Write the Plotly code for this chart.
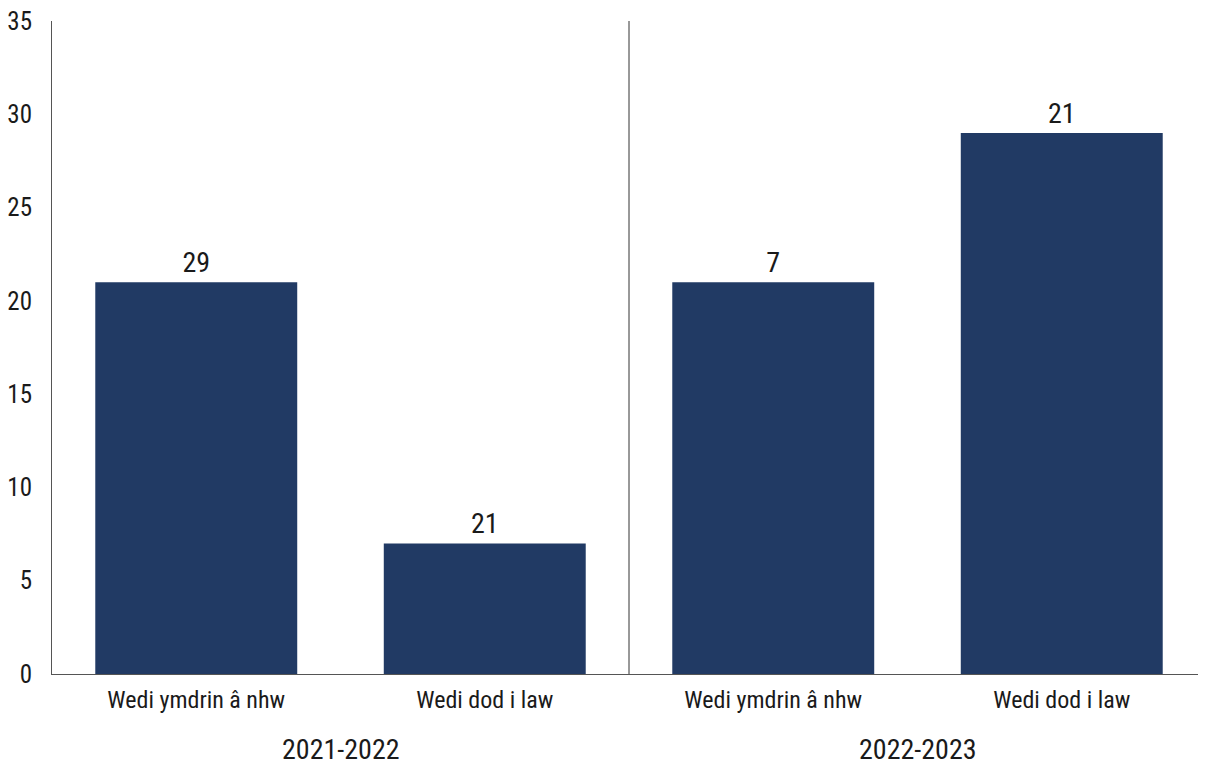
import plotly.graph_objects as go

groups = ["2021-2022", "2022-2023"]
categories = ["Wedi ymdrin â nhw", "Wedi dod i law", "Wedi ymdrin â nhw", "Wedi dod i law"]
bar_heights = [21, 7, 21, 29]
bar_labels = ["29", "21", "7", "21"]
y_ticks = [0, 5, 10, 15, 20, 25, 30, 35]

FONT = "Liberation Sans Narrow, Roboto Condensed, DejaVu Sans Condensed, sans-serif"
BAR_COLOR = "#213a64"
TXT = "#1a1a1a"

xpos = list(range(len(categories)))

fig = go.Figure(go.Bar(
    x=xpos, y=bar_heights, text=bar_labels, textposition="outside",
    texttemplate="%{text}", textfont=dict(size=28, color=TXT, family=FONT),
    marker=dict(color=BAR_COLOR, line=dict(width=0)), cliponaxis=False,
    width=0.7, hoverinfo="skip",
))

# page body has an 8px margin, so the figure is sized/offset to compensate
fig.update_layout(
    width=1198, height=758,
    margin=dict(l=44, r=0, t=13, b=92, autoexpand=False),
    paper_bgcolor="white", plot_bgcolor="white",
    font=dict(family=FONT, size=24, color=TXT),
    showlegend=False,
    xaxis=dict(
        range=[-0.5, len(categories) - 0.5], tickvals=xpos, ticktext=categories,
        showgrid=False, zeroline=False, showline=True, linecolor="#555555", linewidth=1,
        ticks="", tickfont=dict(size=24, family=FONT, color=TXT), automargin=False,
        ticklabelstandoff=4,
    ),
    yaxis=dict(
        range=[0, 35], tickvals=y_ticks, showgrid=False, zeroline=False,
        showline=True, linecolor="#555555", linewidth=1, ticks="",
        tickfont=dict(size=25, family=FONT, color=TXT), ticklabelstandoff=14,
        automargin=False, ticklabeloverflow="allow",
    ),
)

# group divider
fig.add_shape(type="line", xref="x", yref="paper", x0=1.5, x1=1.5, y0=0, y1=1,
              line=dict(color="#333333", width=1))

# group labels
for i, g in enumerate(groups):
    fig.add_annotation(x=2 * i + 0.5, xref="x", y=-0.116, yref="paper", text=g,
                       showarrow=False, yanchor="middle",
                       font=dict(size=28, family=FONT, color=TXT))

fig.write_html("out.html")
